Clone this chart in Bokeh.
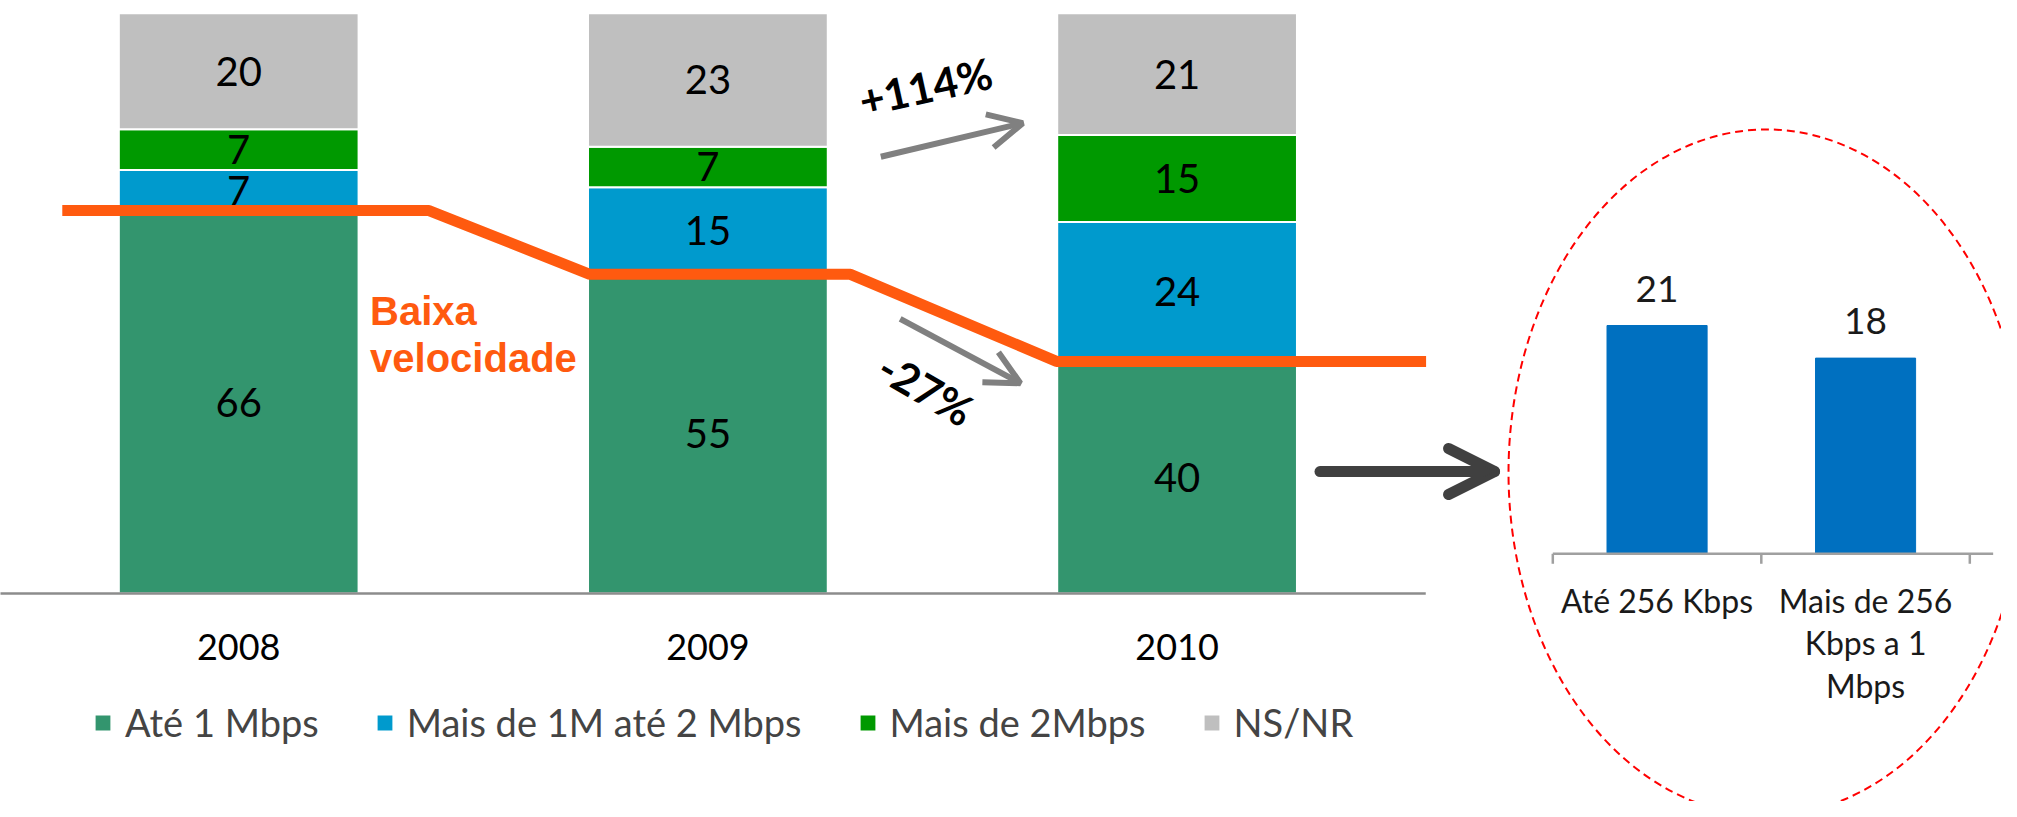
import math
from bokeh.plotting import figure
from bokeh.models import ColumnDataSource, Range1d, Arrow, OpenHead, Legend, LegendItem
from bokeh.core.properties import value
from bokeh.embed import file_html
from bokeh.resources import INLINE

# ---------------- data ----------------
years = ["2008", "2009", "2010"]
series_names = ["Até 1 Mbps", "Mais de 1M até 2 Mbps", "Mais de 2Mbps", "NS/NR"]
ate_1mbps = [66, 55, 40]
de_1_a_2mbps = [7, 15, 24]
mais_2mbps = [7, 7, 15]
ns_nr = [20, 23, 21]
change_labels = ["+114%", "-27%"]
highlight_label = "Baixa velocidade"
inset_categories = ["Até 256 Kbps", "Mais de 256\nKbps a 1\nMbps"]
inset_values = [21, 18]

# ---------------- styles ----------------
colors = ["#33956E", "#009ACD", "#009900", "#BFBFBF"]
ORANGE = "#FF5A0F"
FONT = "Lato"

W, H = 2001, 801
p = figure(width=W, height=H, output_backend="svg", toolbar_location=None,
           x_range=Range1d(-0.5077, 3.7571), y_range=Range1d(-35.84, 102.19),
           x_axis_location=None, y_axis_location=None, min_border=0,
           background_fill_color="white", border_fill_color="white")
p.grid.visible = False
p.outline_line_color = None
p.extra_x_ranges = {"ix": Range1d(-7.445, 2.152)}
p.extra_y_ranges = {"iy": Range1d(-22.79, 50.90)}

xs = list(range(len(years)))
keys = ["a", "b", "c", "d"]
src = ColumnDataSource(dict(x=xs, a=ate_1mbps, b=de_1_a_2mbps, c=mais_2mbps, d=ns_nr))
bars = p.vbar_stack(keys, x="x", width=0.511, color=colors, source=src,
                    line_color="white", line_width=2)

# segment value labels
lx, ly, lt = [], [], []
for i in xs:
    bottom = 0
    for arr in (ate_1mbps, de_1_a_2mbps, mais_2mbps, ns_nr):
        v = arr[i]
        lx.append(i)
        ly.append(bottom + v / 2)
        lt.append(str(v))
        bottom += v
p.text(x=lx, y=ly, text=lt, text_align="center", text_baseline="middle",
       text_font=value(FONT), text_font_size="40px", text_color="black")

# baseline
p.segment(x0=[-0.6], y0=[0], x1=[2.53], y1=[0], line_color="#8C8C8C", line_width=2.5)

# year labels
p.text(x=xs, y=[-9.3] * 3, text=years, text_align="center", text_baseline="middle",
       text_font=value(FONT), text_font_size="36px", text_color="black")

# orange "baixa velocidade" line following Até 1 Mbps
left_off = [-0.376, -0.2517, -0.257]
right_off = [0.4056, 0.3039, 0.5307]
line_x, line_y = [], []
for i in xs:
    line_x += [i + left_off[i], i + right_off[i]]
    line_y += [ate_1mbps[i], ate_1mbps[i]]
p.line(line_x, line_y, line_color=ORANGE, line_width=11)

words = highlight_label.split(" ")
p.text(x=[0.280, 0.280], y=[48.7, 40.5], text=words, text_align="left",
       text_baseline="middle", text_font=value("Liberation Sans"),
       text_font_style="bold", text_font_size="40px", text_color=ORANGE)

# change annotations
p.text(x=[1.4638, 1.4650], y=[87.4, 35.3], text=change_labels,
       angle=[math.radians(12.4), math.radians(-30)], text_align="center",
       text_baseline="middle", text_font=value(FONT), text_font_style="bold",
       text_font_size="43px", text_color="black")
GRAY = "#808080"
p.add_layout(Arrow(end=OpenHead(size=34, line_width=6, line_color=GRAY),
                   x_start=1.3685, y_start=75.27, x_end=1.6711, y_end=81.06,
                   line_width=6, line_color=GRAY))
p.add_layout(Arrow(end=OpenHead(size=34, line_width=6, line_color=GRAY),
                   x_start=1.4098, y_start=47.34, x_end=1.6660, y_end=36.24,
                   line_width=6, line_color=GRAY))
DARK = "#404040"
p.add_layout(Arrow(end=OpenHead(size=46, line_width=11, line_color=DARK,
                                line_cap="round", line_join="round"),
                   x_start=2.3046, y_start=21.02, x_end=2.6766, y_end=21.02,
                   line_width=11, line_color=DARK, line_cap="round"))

# ---------------- inset chart ----------------
ix = [i + 0.5 for i in range(len(inset_values))]
p.ellipse(x=[1.025], y=[7.48], width=[516], height=[686], width_units="screen",
          height_units="screen", fill_color=None, line_color="#FF0000",
          line_dash="8 5", line_width=2, x_range_name="ix", y_range_name="iy")
p.vbar(x=ix, top=inset_values, width=0.48, color="#0070C0",
       x_range_name="ix", y_range_name="iy")
p.segment(x0=[0], y0=[0], x1=[2.112], y1=[0], line_color="#A0A0A0", line_width=2.5,
          x_range_name="ix", y_range_name="iy")
p.segment(x0=[0, 1, 2], y0=[0] * 3, x1=[0, 1, 2], y1=[-0.92] * 3,
          line_color="#A0A0A0", line_width=2.5, x_range_name="ix", y_range_name="iy")
p.text(x=ix, y=[v + 3.4 for v in inset_values], text=[str(v) for v in inset_values],
       text_align="center", text_baseline="middle", text_font=value(FONT),
       text_font_size="37px", text_color="#1A1A1A", x_range_name="ix", y_range_name="iy")
cx, cy, ct = [], [], []
for i, lab in enumerate(inset_categories):
    for k, ln in enumerate(lab.split("\n")):
        cx.append(ix[i])
        cy.append(-4.3 - 3.9 * k)
        ct.append(ln)
p.text(x=cx, y=cy, text=ct, text_align="center", text_baseline="middle",
       text_font=value(FONT), text_font_size="32px", text_color="#1A1A1A",
       x_range_name="ix", y_range_name="iy")

# ---------------- legend ----------------
legend = Legend(items=[LegendItem(label=n, renderers=[r]) for n, r in zip(series_names, bars)],
                orientation="horizontal", location=(92, 56),
                label_text_font=FONT, label_text_font_size="38px",
                glyph_width=21, glyph_height=21, label_standoff=12, spacing=55,
                padding=0, margin=0, border_line_color=None, background_fill_alpha=0)
p.add_layout(legend)

open("out.html", "w").write(file_html(p, INLINE))
